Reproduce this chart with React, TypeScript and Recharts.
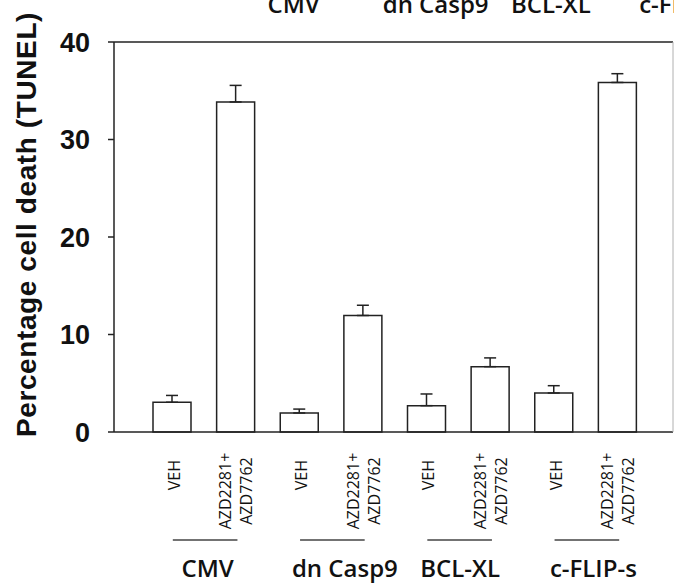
import { BarChart, Bar, XAxis, YAxis, ErrorBar } from 'recharts';

const groups = ['CMV', 'dn Casp9', 'BCL-XL', 'c-FLIP-s'];
const treatments = [['VEH'], ['AZD2281+', 'AZD7762']];
const deathMean = [3.05, 33.85, 1.95, 11.95, 2.7, 6.7, 4.0, 35.85];
const deathErr = [0.7, 1.7, 0.4, 1.05, 1.2, 0.9, 0.75, 0.9];
const yTicks = [0, 10, 20, 30, 40];

// nudges so the captions land where the original figure put them
const groupLabelShift = [4, 14, 2, 8];
const topLabelShift = [32, 20, 21, 22];

const data = deathMean.map((v, i) => ({
  key: `${groups[Math.floor(i / 2)]}-${i % 2}`,
  value: v,
  err: [0, deathErr[i]],
}));

const arial = '"Liberation Sans", Arial, sans-serif';
const sans = '"Open Sans", sans-serif';

function indexOf(payload: any) {
  return data.findIndex((d) => d.key === payload.value);
}

function BottomTick(props: any) {
  const { x, y, payload } = props;
  const i = indexOf(payload);
  const g = Math.floor(i / 2);
  const half = payload.offset || 31.8;
  if (i % 2 === 0) {
    return (
      <g>
        <text
          x={x + 8}
          y={y + 28}
          transform={`rotate(-90 ${x + 8} ${y + 28})`}
          textAnchor="end"
          fontFamily={sans}
          fontSize={16}
          fill="#111"
        >
          VEH
        </text>
        <line x1={x + 1} x2={x + 2 * half + 2} y1={y + 108} y2={y + 108} stroke="#444" strokeWidth={1.5} />
        <text
          x={x + half + groupLabelShift[g]}
          y={y + 145}
          textAnchor="middle"
          fontFamily={sans}
          fontWeight={600}
          fontSize={24}
          fill="#111"
        >
          {groups[g]}
        </text>
      </g>
    );
  }
  const lines = treatments[1];
  return (
    <g>
      {lines.map((t, k) => {
        const bx = x + (k === 0 ? -4 : 17);
        const by = y + 59;
        return (
          <text
            key={t}
            x={bx}
            y={by}
            transform={`rotate(-90 ${bx} ${by})`}
            textAnchor="middle"
            fontFamily={sans}
            fontSize={16}
            fill="#111"
          >
            {t}
          </text>
        );
      })}
    </g>
  );
}

function TopTick(props: any) {
  const { x, y, payload } = props;
  const i = indexOf(payload);
  if (i % 2 === 0) return <g />;
  const g = Math.floor(i / 2);
  return (
    <text
      x={x + topLabelShift[g]}
      y={y - 29}
      textAnchor="start"
      fontFamily={sans}
      fontWeight={600}
      fontSize={24}
      fill="#111"
    >
      {groups[g]}
    </text>
  );
}

function YLabel(props: any) {
  const vb = props.viewBox || { x: 0, y: 42, width: 114, height: 390 };
  const cx = 36;
  const cy = vb.y + vb.height / 2 - 12.5;
  return (
    <text
      x={cx}
      y={cy}
      transform={`rotate(-90 ${cx} ${cy})`}
      textAnchor="middle"
      fontFamily={arial}
      fontWeight={700}
      fontSize={28}
      letterSpacing={0.6}
      fill="#111"
    >
      Percentage cell death (TUNEL)
    </text>
  );
}

export default function App() {
  return (
    <div style={{ position: 'absolute', left: 0, top: 0, width: 674, height: 585, background: '#fff', overflow: 'hidden' }}>
      <BarChart width={674} height={585} data={data} margin={{ top: 0, right: 0, bottom: 0, left: 0 }}>
        <XAxis
          dataKey="key"
          xAxisId="top"
          orientation="top"
          height={42}
          padding={{ left: 26, right: 24 }}
          axisLine={{ stroke: '#222', strokeWidth: 1.5 }}
          tickLine={false}
          tickSize={0}
          tickMargin={0}
          interval={0}
          tick={<TopTick />}
        />
        <XAxis
          dataKey="key"
          height={153}
          padding={{ left: 26, right: 24 }}
          axisLine={{ stroke: '#222', strokeWidth: 1.5 }}
          tickLine={false}
          tickSize={0}
          tickMargin={0}
          interval={0}
          tick={<BottomTick />}
        />
        <YAxis
          domain={[0, 40]}
          ticks={yTicks}
          width={114}
          axisLine={{ stroke: '#222', strokeWidth: 1.5 }}
          tickLine={{ stroke: '#222', strokeWidth: 1.5 }}
          tickSize={6}
          tickMargin={18}
          tick={{ fontFamily: arial, fontWeight: 700, fontSize: 27, fill: '#111' }}
          label={<YLabel />}
        />
        <YAxis
          yAxisId="right"
          orientation="right"
          width={1}
          domain={[0, 40]}
          tick={false}
          tickLine={false}
          axisLine={{ stroke: '#b0b0b0' }}
        />
        <Bar dataKey="value" barSize={38} fill="#fff" stroke="#222" strokeWidth={1.5} isAnimationActive={false}>
          <ErrorBar dataKey="err" width={6} stroke="#222" strokeWidth={1.5} direction="y" />
        </Bar>
      </BarChart>
    </div>
  );
}
